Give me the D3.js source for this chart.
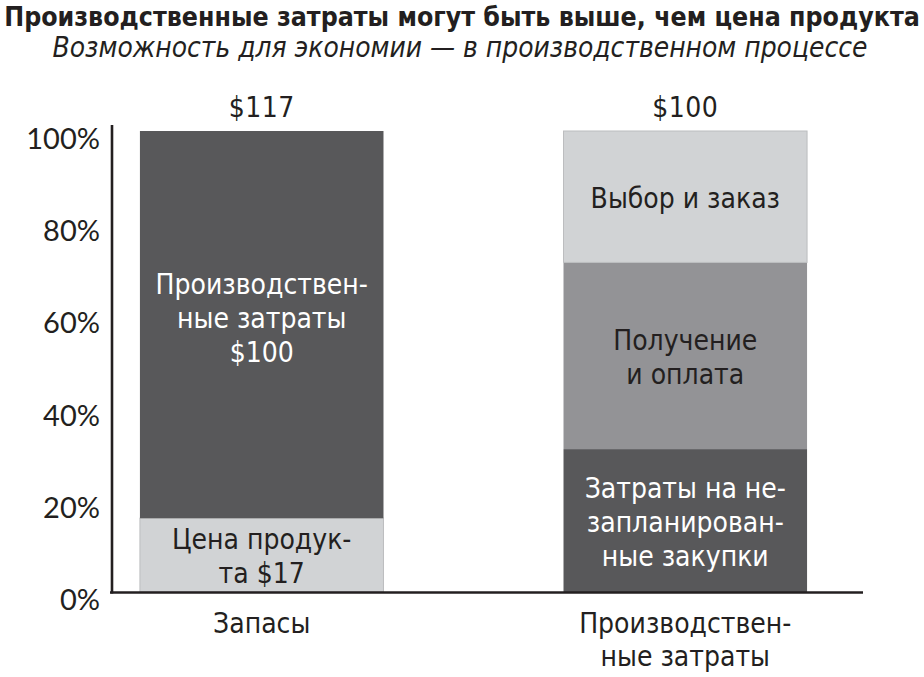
<!DOCTYPE html>
<html>
<head>
<meta charset="utf-8">
<script src="https://cdn.jsdelivr.net/npm/d3@7/dist/d3.min.js"></script>
<style>
  html, body { margin: 0; padding: 0; background: #fff; }
  svg { display: block; }
  .narrow { font-family: "Liberation Sans Narrow", "DejaVu Sans Condensed", "Roboto", sans-serif; }
</style>
</head>
<body>
<svg id="chart" width="924" height="677"></svg>
<script>
// ---- data ----
const title = "Производственные затраты могут быть выше, чем цена продукта";
const subtitle = "Возможность для экономии — в производственном процессе";
const categories = ["Запасы", "Производствен-\nные затраты"];
const totals = ["$117", "$100"];
// segment values (percent of bar height), bottom to top
const segments = [
  { cat: 0, value: 16,   tone: "light", label: "Цена продук-\nта $17" },
  { cat: 0, value: 84,   tone: "dark",  label: "Производствен-\nные затраты\n$100" },
  { cat: 1, value: 31,   tone: "dark",  label: "Затраты на не-\nзапланирован-\nные закупки" },
  { cat: 1, value: 40.5, tone: "mid",   label: "Получение\nи оплата" },
  { cat: 1, value: 28.5, tone: "light", label: "Выбор и заказ" }
];
const yTicks = [0, 20, 40, 60, 80, 100];

// ---- styles ----
const fills = { dark: "#58585a", mid: "#939396", light: "#d1d3d5" };
const textFill = { dark: "#ffffff", mid: "#231f20", light: "#231f20" };
const ink = "#231f20";

const svg = d3.select("#chart");

const x = d3.scaleBand().domain(d3.range(categories.length))
  .range([112, 863]).paddingInner(0.425).paddingOuter(0.099).align(0.333);
const y = d3.scaleLinear().domain([0, 100]).range([592, 131]);

// stack
const cum = categories.map(() => 0);
segments.forEach(s => { s.y0 = cum[s.cat]; s.y1 = cum[s.cat] + s.value; cum[s.cat] = s.y1; });

// bars
svg.append("g").selectAll("rect").data(segments).join("rect")
  .attr("x", d => x(d.cat))
  .attr("width", x.bandwidth())
  .attr("y", d => y(d.y1))
  .attr("height", d => y(d.y0) - y(d.y1))
  .attr("fill", d => fills[d.tone])
  .attr("stroke", d => d.tone === "light" ? "#bcbdbf" : "none")
  .attr("stroke-width", 1);

// segment labels
const lineH = 34;
const segText = svg.append("g").attr("class", "narrow")
  .selectAll("text").data(segments).join("text")
  .attr("text-anchor", "middle")
  .attr("font-size", 28)
  .attr("fill", d => textFill[d.tone])
  .attr("transform", d => {
    const n = d.label.split("\n").length;
    const cy = (y(d.y0) + y(d.y1)) / 2;
    const first = cy - (n - 1) * lineH / 2 + (n > 2 && d.value > 60 ? 3 : 11);
    return `translate(${x(d.cat) + x.bandwidth() / 2},${first})`;
  });
segText.selectAll("tspan").data(d => d.label.split("\n")).join("tspan")
  .attr("x", 0).attr("y", (d, i) => i * lineH).text(d => d);

// totals above bars
svg.append("g").attr("class", "narrow").selectAll("text").data(totals).join("text")
  .attr("x", (d, i) => x(i) + x.bandwidth() / 2)
  .attr("y", y(100) - 14)
  .attr("text-anchor", "middle")
  .attr("font-size", 28)
  .attr("letter-spacing", 0.5)
  .attr("fill", ink)
  .text(d => d);

// y axis
const yAxis = d3.axisLeft(y).tickValues(yTicks).tickSize(0).tickPadding(12)
  .tickFormat(d => d + "%");
const gy = svg.append("g").attr("transform", "translate(112,0)").call(yAxis);
gy.select(".domain").remove();
gy.selectAll("text")
  .attr("font-family", "Lato, 'Open Sans', sans-serif")
  .attr("font-size", 29)
  .attr("fill", ink)
  .attr("dy", "0.6em");

// axis lines
svg.append("line").attr("x1", 112).attr("x2", 112)
  .attr("y1", y(100) - 6).attr("y2", y(0) + 1.5)
  .attr("stroke", ink).attr("stroke-width", 2.6);
svg.append("line").attr("x1", 110).attr("x2", 863)
  .attr("y1", y(0) + 0.5).attr("y2", y(0) + 0.5)
  .attr("stroke", ink).attr("stroke-width", 2.6);

// category labels
const catText = svg.append("g").attr("class", "narrow")
  .selectAll("text").data(categories).join("text")
  .attr("text-anchor", "middle")
  .attr("font-size", 28)
  .attr("fill", ink)
  .attr("transform", (d, i) => `translate(${x(i) + x.bandwidth() / 2},${y(0) + 41})`);
catText.selectAll("tspan").data(d => d.split("\n")).join("tspan")
  .attr("x", 0).attr("y", (d, i) => i * 33).text(d => d);

// title and subtitle: shrink font to fit the target width
function fitText(sel, maxW, maxSize) {
  const len = sel.node().getComputedTextLength();
  sel.attr("font-size", Math.min(maxSize, maxSize * maxW / len));
}
const t = svg.append("text").attr("class", "narrow")
  .attr("x", 462).attr("y", 26).attr("text-anchor", "middle")
  .attr("font-size", 28).attr("font-weight", "bold")
  .attr("fill", ink)
  .text(title);
fitText(t, 916, 28);
const st = svg.append("text").attr("class", "narrow")
  .attr("x", 460).attr("y", 57).attr("text-anchor", "middle")
  .attr("font-size", 28).attr("font-style", "italic")
  .attr("fill", ink)
  .text(subtitle);
fitText(st, 815, 28);
</script>
</body>
</html>
